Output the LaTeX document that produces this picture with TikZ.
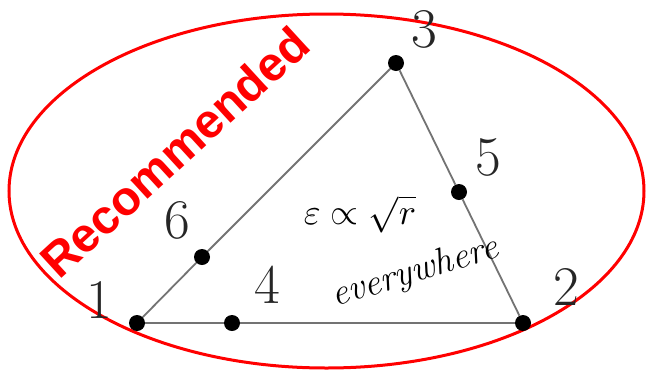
\documentclass[tikz,border=0pt]{standalone}
\usepackage{fontspec}
\newfontfamily\recfont{Liberation Sans}
\begin{document}
\begin{tikzpicture}[x=1pt,y=-1pt,
  vertex/.style={circle,fill=black,inner sep=0pt,minimum size=16pt},
  edge/.style={draw=black!55,line width=1.8pt},
  numlabel/.style={font=\fontsize{56}{60}\selectfont,text=black!85,inner sep=0pt},
  hand/.style={inner sep=0pt,text=black}]
\useasboundingbox (0,0) rectangle (646,373);
\fill[white] (0,0) rectangle (646,373);
% ellipse
\draw[red,line width=3pt] (326.5,191) ellipse [x radius=317.5pt,y radius=177pt];
% vertices
\node[vertex] (n1) at (137,323) {};
\node[vertex] (n2) at (523,323) {};
\node[vertex] (n3) at (396,63) {};
\node[vertex] (n4) at (232,323) {};
\node[vertex] (n5) at (459,192) {};
\node[vertex] (n6) at (202,257) {};
% edges
\draw[edge] (n1) -- (n4);
\draw[edge] (n4) -- (n2);
\draw[edge] (n2) -- (n5);
\draw[edge] (n5) -- (n3);
\draw[edge] (n3) -- (n6);
\draw[edge] (n6) -- (n1);
% labels
\node[numlabel] (l1) at (99,300) {1};
\node[numlabel] (l2) at (566,287) {2};
\node[numlabel] (l3) at (424,29) {3};
\node[numlabel] (l4) at (267,285) {4};
\node[numlabel] (l5) at (488,157) {5};
\node[numlabel] (l6) at (177,220) {6};
% Recommended
\node[anchor=base west,rotate=42.5,inner sep=0pt,text=red,font=\recfont\bfseries\fontsize{48}{50}\selectfont] (rec) at (59,281) {Recommended};
% handwritten note
\node[hand] (eq) at (360,214) {\scalebox{3.6}{$\varepsilon\propto\sqrt{r}$}};
\node[hand,rotate=17,font=\itshape\fontsize{37}{40}\selectfont] (ev) at (415,273) {everywhere};
\end{tikzpicture}
\end{document}
